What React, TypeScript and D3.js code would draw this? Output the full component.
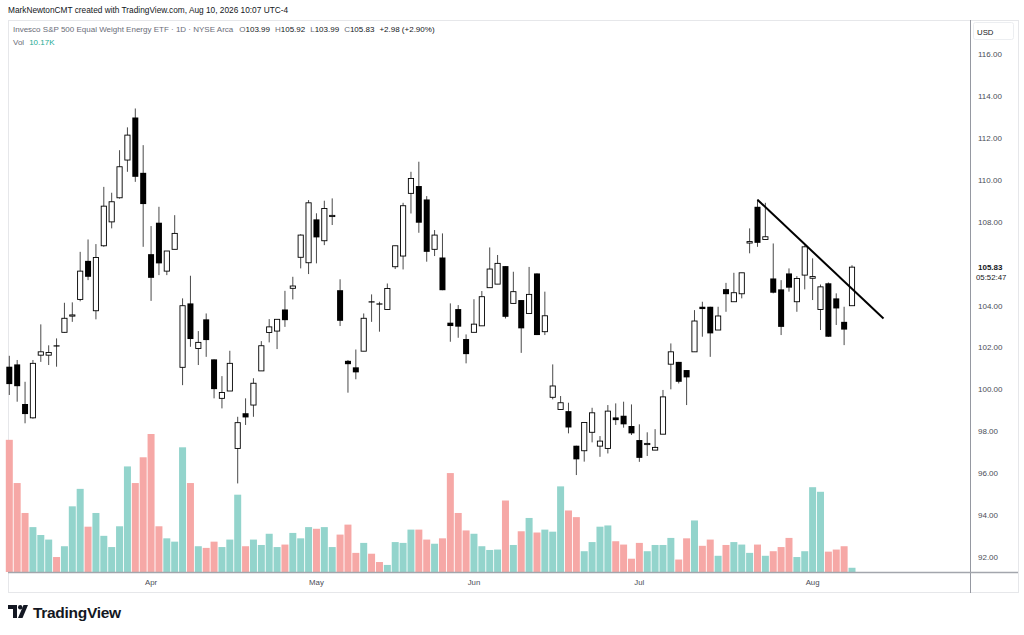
import React from "react";
import * as d3 from "d3";

// daily OHLC, oldest first
const opens = [
  101.08, 101.19, 99.3, 98.64, 101.63, 101.63, 102.1, 102.72, 103.5, 104.29,
  106.13, 103.75, 106.85, 107.99, 109.14, 110.94, 112.97, 110.33, 106.45, 107.95,
  105.64, 106.68, 101.05, 104.1, 101.95, 103.34, 101.43, 99.57, 99.92, 97.18,
  98.86, 99.25, 100.88, 102.71, 102.78, 103.81, 104.82, 106.3, 106.04, 108.11,
  107.09, 108.25, 104.73, 101.36, 101.05, 101.82, 104.2, 104.1, 103.81, 105.85,
  106.36, 109.35, 109.7, 109.06, 106.68, 106.29, 103.18, 103.83, 102.4, 102.72,
  103.03, 104.85, 105.02, 105.88, 104.1, 104.26, 103.62, 105.53, 102.75, 99.62,
  99.04, 98.96, 97.31, 97.07, 97.95, 97.29, 97.18, 98.66, 98.74, 98.25,
  97.58, 97.37, 97.1, 97.86, 101.2, 101.31, 100.92, 101.79, 103.94, 103.94,
  102.83, 104.78, 104.18, 104.56, 106.98, 108.71, 107.15, 105.29, 104.77, 105.53,
  104.18, 105.45, 105.3, 103.81, 105.06, 104.34, 103.22, 103.99,
];
const highs = [
  101.6, 101.4, 100.36, 101.4, 103.1, 102.1, 102.43, 104.13, 104.15, 106.56,
  107.15, 106.93, 109.66, 109.38, 111.41, 112.5, 113.4, 111.65, 107.79, 108.71,
  106.6, 108.31, 104.34, 105.42, 102.78, 103.62, 101.43, 100.63, 101.84, 98.69,
  99.57, 100.53, 102.3, 103.35, 103.34, 104.7, 105.37, 107.4, 109.03, 108.4,
  109.0, 109.11, 105.25, 101.4, 101.9, 103.62, 104.53, 104.18, 105.05, 106.85,
  108.9, 110.38, 110.86, 109.22, 107.6, 107.44, 104.1, 104.02, 102.62, 104.3,
  104.69, 106.77, 106.41, 105.88, 105.61, 104.26, 105.84, 105.53, 104.66, 101.19,
  99.68, 99.36, 97.31, 98.42, 99.12, 97.77, 99.25, 99.33, 99.41, 99.28,
  98.33, 97.95, 98.1, 99.97, 102.19, 101.31, 100.92, 103.78, 104.18, 103.94,
  103.94, 105.08, 105.56, 105.56, 107.68, 109.06, 108.9, 106.96, 105.21, 105.77,
  105.4, 106.88, 106.25, 105.0, 105.1, 104.58, 103.94, 105.92,
];
const lows = [
  99.73, 99.41, 98.38, 98.6, 101.31, 101.16, 101.08, 102.7, 103.22, 104.2,
  105.21, 103.34, 106.8, 107.68, 109.1, 110.38, 109.9, 106.8, 104.22, 105.45,
  105.45, 106.68, 100.2, 102.03, 101.16, 101.55, 99.57, 99.09, 99.92, 95.51,
  98.3, 98.69, 100.88, 102.24, 101.92, 102.98, 104.29, 105.77, 105.5, 106.01,
  106.88, 107.84, 103.02, 99.84, 100.48, 101.82, 103.22, 102.75, 103.81, 105.74,
  105.72, 108.39, 107.47, 106.09, 106.36, 104.73, 102.27, 102.46, 101.24, 102.72,
  103.03, 104.85, 105.02, 103.38, 104.1, 101.74, 103.62, 102.59, 102.59, 99.52,
  99.04, 97.9, 95.91, 96.55, 97.47, 96.78, 96.94, 98.3, 98.17, 97.82,
  96.54, 96.82, 97.1, 97.86, 100.0, 100.28, 99.25, 101.79, 102.51, 101.55,
  102.83, 103.7, 104.18, 104.34, 106.49, 106.8, 107.15, 104.58, 102.59, 104.66,
  103.7, 104.77, 104.26, 102.83, 102.5, 103.07, 102.11, 103.99,
];
const closes = [
  100.25, 100.15, 98.82, 101.24, 101.79, 101.76, 102.05, 103.39, 103.55, 105.64,
  105.37, 106.29, 108.74, 108.95, 110.62, 112.13, 110.14, 108.84, 105.32, 106.01,
  106.6, 107.44, 103.99, 102.4, 102.24, 102.35, 100.01, 99.85, 101.24, 98.41,
  98.66, 100.29, 102.08, 102.98, 103.34, 103.3, 104.93, 107.36, 108.9, 107.25,
  108.63, 108.3, 103.27, 101.2, 100.81, 103.39, 104.15, 104.05, 104.81, 106.85,
  108.76, 110.06, 107.95, 106.56, 107.36, 104.73, 103.02, 102.99, 101.68, 103.11,
  104.42, 105.74, 106.01, 103.46, 104.66, 102.91, 104.53, 102.59, 103.51, 100.16,
  99.36, 98.18, 96.66, 98.42, 98.88, 97.53, 98.96, 98.53, 98.33, 97.9,
  96.73, 97.42, 97.23, 99.64, 101.79, 100.36, 100.57, 103.26, 103.83, 102.67,
  103.5, 104.54, 104.61, 105.56, 107.05, 106.99, 107.28, 104.61, 102.98, 104.85,
  105.29, 106.8, 105.38, 104.89, 102.51, 103.86, 102.85, 105.83,
];
// volume in thousands
const volumes = [
  318, 214, 142, 108, 89, 78, 36, 62, 158, 200,
  109, 142, 87, 60, 110, 254, 214, 276, 332, 110,
  81, 73, 300, 214, 62, 58, 73, 60, 78, 186,
  62, 78, 65, 92, 60, 66, 94, 81, 108, 104,
  108, 60, 90, 114, 46, 70, 44, 24, 17, 72,
  70, 102, 102, 78, 68, 81, 238, 142, 100, 92,
  62, 53, 54, 172, 65, 98, 130, 95, 102, 97,
  206, 148, 132, 50, 72, 109, 112, 74, 66, 32,
  70, 50, 65, 65, 82, 30, 81, 124, 63, 78,
  39, 65, 72, 66, 46, 66, 39, 50, 60, 82,
  36, 50, 204, 193, 49, 54, 62, 10.17,
];

const monthLabels = ["Apr", "May", "Jun", "Jul", "Aug"];
const monthBars = [18, 39, 59, 80, 102];
const priceTicks = [92, 94, 96, 98, 100, 102, 104, 108, 110, 112, 114, 116];
const trendBars = [95, 111];
const trendPrices = [109.05, 103.38];

const W = 1024;
const H = 635;
const font = "'Liberation Sans', Arial, sans-serif";
const upVol = "#93d4cc";
const downVol = "#f6a8a6";

const App = () => {
  const x = d3.scaleLinear().domain([0, 107]).range([9.3, 852]);
  const y = d3.scaleLinear().domain([92, 116]).range([557, 54]);
  const yVol = d3.scaleLinear().domain([0, d3.max(volumes) as number]).range([572, 434]);

  const trend = d3
    .line<number>()
    .x((d) => x(d))
    .y((_, i) => y(trendPrices[i]));

  const last = closes.length - 1;
  const lastClose = closes[last];
  const prevClose = closes[last - 1];
  const change = lastClose - prevClose;

  return (
    <div style={{ position: "absolute", left: 0, top: 0 }}>
      <svg width={W} height={H} style={{ display: "block", background: "#fff" }} fontFamily={font}>
        <text x={8} y={13} fontSize={8.3} fill="#131722">
          MarkNewtonCMT created with TradingView.com, Aug 10, 2026 10:07 UTC-4
        </text>

        {/* frame */}
        <rect x={8.5} y={20.5} width={1010} height={572} fill="none" stroke="#e6e7ea" />
        <line x1={970.5} x2={970.5} y1={20} y2={593} stroke="#9598a1" />

        {/* volume */}
        {volumes.map((v, i) => (
          <rect
            key={"v" + i}
            x={x(i) - 3.5}
            y={yVol(v)}
            width={7}
            height={572 - yVol(v)}
            fill={closes[i] >= opens[i] ? upVol : downVol}
          />
        ))}
        <line x1={8} x2={1018} y1={572.5} y2={572.5} stroke="#a3a6ad" strokeWidth={1.4} />

        {/* candles */}
        {opens.map((o, i) => {
          const c = closes[i];
          const up = c >= o;
          const top = y(Math.max(o, c));
          const h = Math.max(1.2, Math.abs(y(o) - y(c)));
          return (
            <g key={"c" + i}>
              <line x1={x(i)} x2={x(i)} y1={y(highs[i])} y2={y(lows[i])} stroke="#4a4a4a" strokeWidth={1} />
              {up ? (
                <rect x={x(i) - 2.6} y={top} width={5.2} height={h} fill="#fff" stroke="#000" strokeWidth={0.9} />
              ) : (
                <rect x={x(i) - 3} y={top} width={6} height={h} fill="#000" />
              )}
            </g>
          );
        })}

        {/* trendline */}
        <path d={trend(trendBars) || ""} stroke="#000" strokeWidth={2} fill="none" />

        {/* legend */}
        <text x={13} y={32} fontSize={8} fill="#6a6d78">
          Invesco S&amp;P 500 Equal Weight Energy ETF · 1D · NYSE Arca
          <tspan fill="#6a6d78" dx={6}>O</tspan>
          <tspan fill="#131722">{opens[last].toFixed(2)}</tspan>
          <tspan fill="#6a6d78" dx={5}>H</tspan>
          <tspan fill="#131722">{highs[last].toFixed(2)}</tspan>
          <tspan fill="#6a6d78" dx={5}>L</tspan>
          <tspan fill="#131722">{lows[last].toFixed(2)}</tspan>
          <tspan fill="#6a6d78" dx={5}>C</tspan>
          <tspan fill="#131722">{lastClose.toFixed(2)}</tspan>
          <tspan fill="#131722" dx={5}>
            +{change.toFixed(2)} (+{((change / prevClose) * 100).toFixed(2)}%)
          </tspan>
        </text>
        <text x={13} y={45} fontSize={8} fill="#6a6d78">
          Vol
          <tspan fill="#22ab94" dx={5}>{volumes[last].toFixed(2)}K</tspan>
        </text>

        {/* price axis */}
        <rect x={973.5} y={22.5} width={40} height={17} rx={2} fill="#fff" stroke="#eceef1" />
        <text x={977} y={34.5} fontSize={7.8} fill="#131722">USD</text>
        {priceTicks.map((t) => (
          <text key={"t" + t} x={978} y={y(t) + 3} fontSize={8} fill="#4a4d57">
            {t.toFixed(2)}
          </text>
        ))}
        <text x={978} y={y(lastClose) + 3} fontSize={8} fill="#131722" fontWeight="bold">
          {lastClose.toFixed(2)}
        </text>
        <text x={976} y={y(lastClose) + 13} fontSize={7.8} fill="#131722">05:52:47</text>

        {/* time axis */}
        {monthLabels.map((m, i) => (
          <text key={m} x={x(monthBars[i])} y={585} fontSize={7.8} fill="#4a4d57" textAnchor="middle">
            {m}
          </text>
        ))}

        {/* logo */}
        <g transform="translate(8,605)">
          <path d="M0 0 H9 V13 H5 V4 H0 Z" fill="#131722" />
          <circle cx={12.2} cy={2.2} r={2.2} fill="#131722" />
          <path d="M15.5 0 H20 L14.5 13 H10 Z" fill="#131722" />
          <text x={25} y={12.5} fontSize={15.5} fill="#131722" fontWeight="600" letterSpacing={-0.3}>
            TradingView
          </text>
        </g>
      </svg>
    </div>
  );
};

export default App;
